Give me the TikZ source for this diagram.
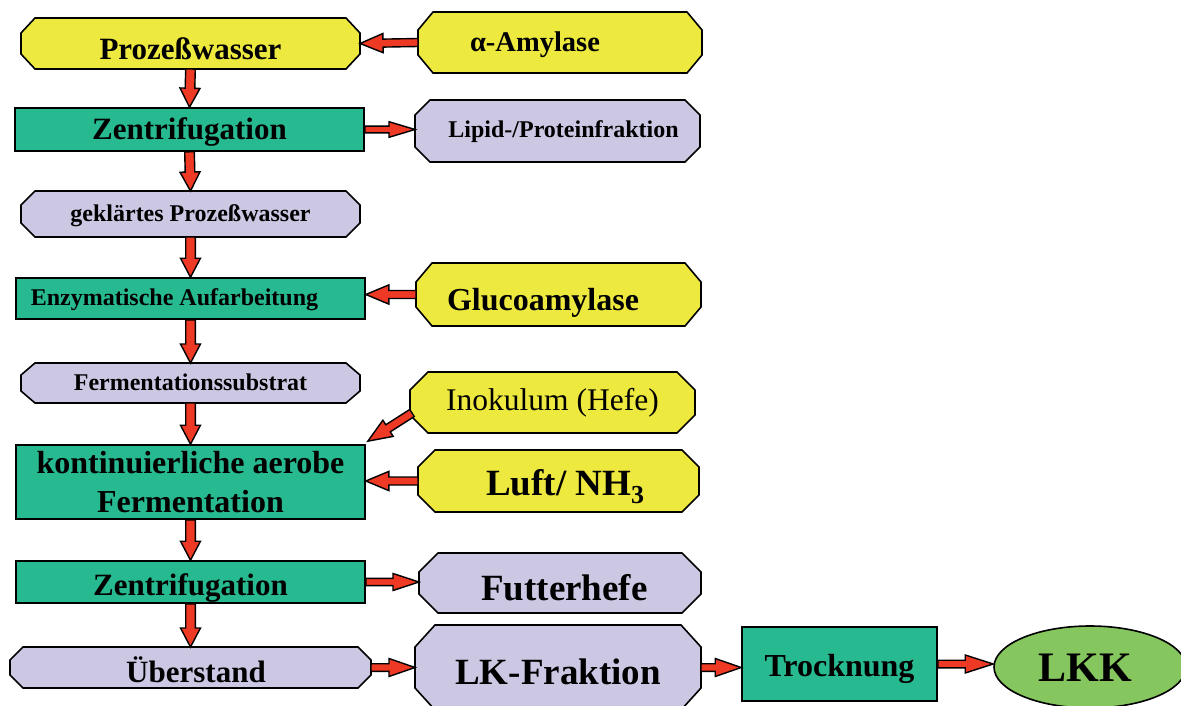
\documentclass[tikz,border=0pt]{standalone}
\usepackage{fontspec}
\setmainfont{Liberation Serif}
\usetikzlibrary{shapes.geometric,calc,backgrounds}

\definecolor{yel}{RGB}{238,233,62}
\definecolor{tealbox}{RGB}{39,185,144}
\definecolor{lav}{RGB}{204,200,228}
\definecolor{grn}{RGB}{134,198,94}
\definecolor{arr}{RGB}{238,58,36}

% block arrow: #1 shaft half width, #2 head half width, #3 head length, #4 from, #5 to
\newcommand\barrow[5]{%
  \coordinate (baS) at (#4);
  \coordinate (baT) at (#5);
  \coordinate (baH) at ($(baT)!#3!(baS)$);
  \filldraw[blockarrow] ($(baS)!#1!90:(baT)$) -- ($(baH)!#1!90:(baT)$) -- ($(baH)!#2!90:(baT)$) -- (baT)
     -- ($(baH)!#2!-90:(baT)$) -- ($(baH)!#1!-90:(baT)$) -- ($(baS)!#1!-90:(baT)$) -- cycle;}

% octagon outline behind a named node: #1 node, #2 horizontal chamfer, #3 vertical chamfer, #4 fill colour
\newcommand\octo[4]{%
  \begin{scope}[on background layer]
  \filldraw[octline, fill=#4] ([xshift=#2]#1.north west) -- ([xshift=-#2]#1.north east)
     -- ([yshift=-#3]#1.north east) -- ([yshift=#3]#1.south east)
     -- ([xshift=-#2]#1.south east) -- ([xshift=#2]#1.south west)
     -- ([yshift=#3]#1.south west) -- ([yshift=-#3]#1.north west) -- cycle;
  \end{scope}}

\tikzset{
  box/.style={draw=black, line width=1.6pt, inner sep=0pt},
  rbox/.style={box, rectangle, fill=tealbox},
  oct/.style={rectangle, inner sep=0pt, outer sep=0pt},
  octline/.style={draw=black, line width=1.6pt, line join=miter},
  bl/.style={text height=#1, text depth=0pt},
  blockarrow/.style={fill=arr, draw=black, line width=1.4pt, line join=miter},
  bf/.style={font=\bfseries\fontsize{#1}{#1}\selectfont},
  rm/.style={font=\fontsize{#1}{#1}\selectfont},
}

\begin{document}
\begin{tikzpicture}[x=1pt,y=-1pt]
\useasboundingbox (0,0) rectangle (1181,706);
\clip (0,0) rectangle (1181,706);

% left column
\node[oct, minimum width=339pt, minimum height=51pt, bf=31, bl=31.6pt] (pw) at (190.5,43.5) {Prozeßwasser};
\node[rbox, minimum width=349pt, minimum height=43pt, bf=31, bl=21pt] (z1) at (189.5,129.5) {Zentrifugation};
\node[oct, minimum width=339pt, minimum height=46pt, bf=24, bl=15.4pt] (gek) at (190.5,214) {geklärtes Prozeßwasser};
\node[rbox, minimum width=349pt, minimum height=41pt, bf=24, bl=13pt] (enz) at (190.5,298.5) {Enzymatische Aufarbeitung\hspace*{32pt}};
\node[oct, minimum width=339pt, minimum height=40pt, bf=24, bl=15.4pt] (ferm) at (190.5,383) {Fermentationssubstrat};
\node[rbox, minimum width=349pt, minimum height=74pt, align=center, font=\bfseries\fontsize{32}{38.4}\selectfont] (kaf) at (190.5,482) {kontinuierliche aerobe\\Fermentation};
\node[rbox, minimum width=349pt, minimum height=42pt, bf=31, bl=26pt] (z2) at (190.5,582) {Zentrifugation};
\node[oct, minimum width=361pt, minimum height=41pt, bf=31, bl=29.6pt] (ueb) at (190.5,667.5) {\hspace*{11pt}Überstand};

% right column
\node[oct, minimum width=284pt, minimum height=61pt, bf=28.5, bl=18.4pt] (amy) at (560,42.5) {α-Amylase\hspace*{50pt}};
\node[oct, minimum width=285pt, minimum height=62pt, bf=24, bl=12.6pt] (lip) at (557.5,131) {\hspace*{12pt}Lipid-/Proteinfraktion};
\node[oct, minimum width=285pt, minimum height=63pt, bf=32, bl=31pt] (gluc) at (558.5,294.5) {Glucoamylase\hspace*{31pt}};
\node[oct, minimum width=285pt, minimum height=61pt, rm=31.5, bl=16.4pt] (ino) at (552.5,402.5) {Inokulum (Hefe)};
\node[oct, minimum width=281pt, minimum height=62pt, bf=37, bl=28pt] (luft) at (558.5,481) {\hspace*{14pt}Luft/ NH\textsubscript{3}};
\node[oct, minimum width=282pt, minimum height=60pt, bf=37, bl=34pt] (fut) at (560,583) {\hspace*{9pt}Futterhefe};
\node[oct, minimum width=286pt, minimum height=85pt, bf=37, bl=33pt] (lk) at (558,667.5) {LK-Fraktion};
\node[rbox, minimum width=195pt, minimum height=74pt, bf=32, bl=24pt] (tro) at (839.5,664) {Trocknung};
\node[box, ellipse, fill=grn, minimum width=192pt, minimum height=82pt, bf=42, bl=28pt] (lkk) at (1090,667) {LKK\hspace*{10pt}};

% octagon outlines
\octo{pw}{14pt}{15pt}{yel}
\octo{gek}{14pt}{14pt}{lav}
\octo{ferm}{14pt}{12pt}{lav}
\octo{ueb}{13pt}{13pt}{lav}
\octo{amy}{15pt}{18pt}{yel}
\octo{lip}{15pt}{15pt}{lav}
\octo{gluc}{16pt}{19pt}{yel}
\octo{ino}{18pt}{18pt}{yel}
\octo{luft}{17pt}{17pt}{yel}
\octo{fut}{19pt}{19pt}{lav}
\octo{lk}{20pt}{22pt}{lav}

% vertical flow
\barrow{4.8pt}{10pt}{19pt}{pw.south}{z1.north}
\barrow{4.8pt}{10pt}{19pt}{z1.south}{gek.north}
\barrow{4.8pt}{10pt}{19pt}{gek.south}{enz.north}
\barrow{4.8pt}{10pt}{19pt}{enz.south}{ferm.north}
\barrow{4.8pt}{10pt}{19pt}{ferm.south}{kaf.north}
\barrow{4.8pt}{10pt}{19pt}{kaf.south}{z2.north}
\barrow{4.8pt}{10pt}{19pt}{z2.south}{ueb.north}

% inputs from the right
\barrow{4pt}{9.6pt}{23pt}{amy.west}{pw.east}
\barrow{4pt}{9.6pt}{23pt}{gluc.west}{gluc.west -| enz.east}
\barrow{4.2pt}{9.6pt}{24pt}{[shift={(2,10.5)}]ino.west}{[shift={(2,-3)}]kaf.north east}
\barrow{4pt}{9.6pt}{23pt}{luft.west}{luft.west -| kaf.east}

% outputs to the right
\barrow{3.4pt}{7.8pt}{26pt}{z1.east}{z1.east -| lip.west}
\barrow{3.6pt}{8.5pt}{26pt}{z2.east}{z2.east -| fut.west}
\barrow{3.8pt}{9pt}{26pt}{ueb.east}{ueb.east -| lk.west}
\barrow{3.8pt}{9pt}{26pt}{lk.east}{lk.east -| tro.west}
\barrow{3.8pt}{9pt}{28pt}{tro.east}{tro.east -| lkk.west}
\end{tikzpicture}
\end{document}
